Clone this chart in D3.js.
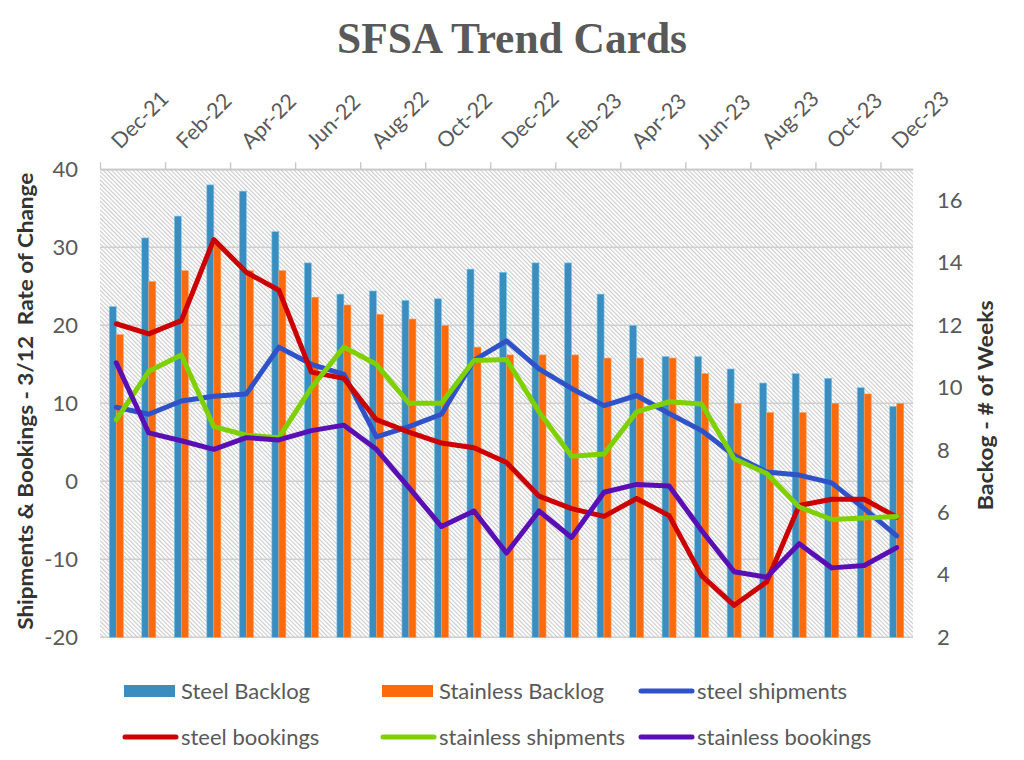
<!DOCTYPE html>
<html>
<head>
<meta charset="utf-8">
<script src="https://cdn.jsdelivr.net/npm/d3@7"></script>
<style>
  body { margin: 0; background: #fff; }
  svg { display: block; }
</style>
</head>
<body>
<svg id="chart" width="1024" height="760"></svg>
<script>
// month categories, Dec-21 .. Dec-23
const months = ['Dec-21', 'Jan-22', 'Feb-22', 'Mar-22', 'Apr-22', 'May-22', 'Jun-22', 'Jul-22',
  'Aug-22', 'Sep-22', 'Oct-22', 'Nov-22', 'Dec-22', 'Jan-23', 'Feb-23', 'Mar-23', 'Apr-23',
  'May-23', 'Jun-23', 'Jul-23', 'Aug-23', 'Sep-23', 'Oct-23', 'Nov-23', 'Dec-23'];

// backlog, weeks (right axis)
const steelBacklog = [12.6, 14.8, 15.5, 16.5, 16.3, 15.0, 14.0, 13.0, 13.1, 12.8, 12.85, 13.8, 13.7,
  14.0, 14.0, 13.0, 12.0, 11.0, 11.0, 10.6, 10.15, 10.45, 10.3, 10.0, 9.4];
const stainlessBacklog = [11.7, 13.4, 13.75, 14.6, 13.75, 13.75, 12.9, 12.65, 12.35, 12.2, 12.0, 11.3, 11.05,
  11.05, 11.05, 10.95, 10.95, 10.95, 10.45, 9.5, 9.2, 9.2, 9.5, 9.8, 9.5];

// 3/12 rate of change (left axis)
const steelShipments = [9.5, 8.6, 10.3, 10.9, 11.2, 17.2, 15.0, 13.7, 5.7, 7.0, 8.6, 15.5, 18.0,
  14.4, 11.9, 9.7, 11.0, 8.7, 6.5, 3.3, 1.2, 0.8, -0.2, -3.5, -7.0];
const steelBookings = [20.2, 18.9, 20.6, 31.0, 26.8, 24.5, 14.0, 13.2, 7.9, 6.3, 4.9, 4.3, 2.4,
  -1.9, -3.5, -4.5, -2.2, -4.4, -12.1, -15.9, -12.9, -3.1, -2.3, -2.3, -4.6];
const stainlessShipments = [7.9, 14.1, 16.2, 7.0, 5.9, 5.6, 12.0, 17.2, 15.0, 10.0, 10.0, 15.5, 15.6,
  8.9, 3.2, 3.5, 8.9, 10.2, 9.9, 2.9, 1.0, -3.3, -4.9, -4.7, -4.5];
const stainlessBookings = [15.2, 6.2, 5.2, 4.1, 5.6, 5.3, 6.5, 7.2, 4.1, -0.8, -5.8, -3.8, -9.2,
  -3.8, -7.2, -1.4, -0.4, -0.6, -6.3, -11.6, -12.3, -8.0, -11.1, -10.8, -8.5];

const leftTicks = [-20, -10, 0, 10, 20, 30, 40];
const rightTicks = [2, 4, 6, 8, 10, 12, 14, 16];
const labelEvery = 2;

const barSeries = [
  { name: 'Steel Backlog', values: steelBacklog, color: '#3b8dc0', edge: '#79c8ec' },
  { name: 'Stainless Backlog', values: stainlessBacklog, color: '#fb6b0e', edge: '#ff9a50' }
];
const lineSeries = [
  { name: 'steel shipments', values: steelShipments, color: '#2f52c8' },
  { name: 'steel bookings', values: steelBookings, color: '#cc0000' },
  { name: 'stainless shipments', values: stainlessShipments, color: '#7ed000' },
  { name: 'stainless bookings', values: stainlessBookings, color: '#5a0fb4' }
];
const legendOrder = ['Steel Backlog', 'Stainless Backlog', 'steel shipments',
  'steel bookings', 'stainless shipments', 'stainless bookings'];

const font = 'Lato, "Open Sans", sans-serif';
const grey = '#595959';

const plot = { l: 100, r: 913, t: 169.3, b: 637.3 };

const svg = d3.select('#chart');

const x = d3.scaleBand().domain(months).range([plot.l, plot.r]).paddingInner(0).paddingOuter(0);
const xb = d3.scaleLinear().domain([0, months.length]).range([plot.l, plot.r]);
const sub = d3.scaleBand().domain(barSeries.map(d => d.name))
  .range([x.bandwidth() * 0.285, x.bandwidth() * 0.715]);
const y = d3.scaleLinear().domain([-20, 40]).range([plot.b, plot.t]);
const y2 = d3.scaleLinear().domain([2, 17]).range([plot.b, plot.t]);

// hatch background
const pat = svg.append('defs').append('pattern')
  .attr('id', 'hatch')
  .attr('patternUnits', 'userSpaceOnUse')
  .attr('width', 3).attr('height', 3)
  .attr('patternTransform', 'rotate(-45)');
pat.append('rect').attr('width', 3).attr('height', 3).attr('fill', '#fff');
pat.append('line').attr('x1', 0.6).attr('x2', 0.6).attr('y1', 0).attr('y2', 3)
  .attr('stroke', '#c6c6c6').attr('stroke-width', 1);

svg.append('rect')
  .attr('x', plot.l).attr('y', plot.t)
  .attr('width', plot.r - plot.l).attr('height', plot.b - plot.t)
  .attr('fill', 'url(#hatch)');

// gridlines
svg.append('g').selectAll('line')
  .data(leftTicks)
  .join('line')
  .attr('x1', plot.l).attr('x2', plot.r)
  .attr('y1', d => y(d)).attr('y2', d => y(d))
  .attr('stroke', '#cfcfcf').attr('stroke-width', 1.6);

// bars
svg.append('g').selectAll('g')
  .data(barSeries)
  .join('g')
  .attr('fill', d => d.color)
  .attr('stroke', d => d.edge)
  .attr('stroke-width', 0.6)
  .selectAll('rect')
  .data(s => s.values.map((v, i) => ({ name: s.name, month: months[i], v })))
  .join('rect')
  .attr('x', d => x(d.month) + sub(d.name))
  .attr('width', sub.bandwidth())
  .attr('y', d => y2(d.v))
  .attr('height', d => y2(2) - y2(d.v));

// lines
const line = d3.line()
  .x((d, i) => x(months[i]) + x.bandwidth() / 2)
  .y(d => y(d));

svg.append('g').selectAll('path')
  .data(lineSeries)
  .join('path')
  .attr('fill', 'none')
  .attr('stroke', d => d.color)
  .attr('stroke-width', 5)
  .attr('stroke-linejoin', 'round')
  .attr('stroke-linecap', 'round')
  .attr('d', d => line(d.values));

// top category axis
const axTop = svg.append('g')
  .attr('transform', `translate(0,${plot.t})`)
  .call(d3.axisTop(xb)
    .tickValues(d3.range(0, months.length, labelEvery))
    .tickFormat('')
    .tickSize(7)
    .tickSizeOuter(0));
axTop.select('.domain').attr('stroke', '#c8c8c8').attr('stroke-width', 1.6);
axTop.selectAll('.tick line').attr('stroke', '#c8c8c8').attr('stroke-width', 1.4);

svg.append('g').selectAll('text')
  .data(months.filter((m, i) => i % labelEvery === 0))
  .join('text')
  .attr('transform', d => `translate(${x(d) + x.bandwidth() / 2 + 4},150) rotate(-45)`)
  .attr('font-family', font)
  .attr('font-size', 21.5)
  .attr('fill', grey)
  .text(d => d);

// left value axis
const axL = svg.append('g')
  .attr('transform', `translate(${plot.l},0)`)
  .call(d3.axisLeft(y).tickValues(leftTicks).tickSize(0).tickPadding(22).tickFormat(d => String(d)));
axL.select('.domain').remove();
axL.selectAll('text').attr('font-family', font).attr('font-size', 22).attr('fill', grey);

// right value axis
const axR = svg.append('g')
  .attr('transform', `translate(${plot.r},0)`)
  .call(d3.axisRight(y2).tickValues(rightTicks).tickSize(0).tickPadding(24).tickFormat(d => String(d)));
axR.select('.domain').remove();
axR.selectAll('text').attr('font-family', font).attr('font-size', 22).attr('fill', grey);

// axis titles
svg.append('text')
  .attr('transform', `translate(33,${(plot.t + plot.b) / 2 - 2}) rotate(-90)`)
  .attr('text-anchor', 'middle')
  .attr('font-family', font)
  .attr('font-weight', 'bold')
  .attr('font-size', 21.5)
  .attr('fill', '#333')
  .attr('xml:space', 'preserve')
  .attr('textLength', 457)
  .attr('lengthAdjust', 'spacingAndGlyphs')
  .text('Shipments & Bookings - 3/12  Rate of Change');

svg.append('text')
  .attr('transform', `translate(993,${(plot.t + plot.b) / 2 + 2}) rotate(-90)`)
  .attr('text-anchor', 'middle')
  .attr('font-family', font)
  .attr('font-weight', 'bold')
  .attr('font-size', 21.5)
  .attr('fill', '#333')
  .attr('textLength', 210)
  .attr('lengthAdjust', 'spacingAndGlyphs')
  .text('Backog - # of Weeks');

// title
svg.append('text')
  .attr('x', 512).attr('y', 53)
  .attr('text-anchor', 'middle')
  .attr('font-family', '"Liberation Serif", "DejaVu Serif", serif')
  .attr('font-weight', 'bold')
  .attr('font-size', 45)
  .attr('fill', grey)
  .attr('textLength', 350)
  .attr('lengthAdjust', 'spacingAndGlyphs')
  .text('SFSA Trend Cards');

// legend
const allSeries = barSeries.map(d => ({ ...d, type: 'bar' }))
  .concat(lineSeries.map(d => ({ ...d, type: 'line' })));
const legendItems = legendOrder.map(n => allSeries.find(s => s.name === n));

const lg = svg.append('g').selectAll('g')
  .data(legendItems)
  .join('g')
  .attr('transform', (d, i) => `translate(${124 + 258 * (i % 3)},${691 + 46 * Math.floor(i / 3)})`);

lg.filter(d => d.type === 'bar').append('rect')
  .attr('x', 0).attr('y', -6).attr('width', 51).attr('height', 12)
  .attr('fill', d => d.color);
lg.filter(d => d.type === 'line').append('line')
  .attr('x1', 1).attr('x2', 52).attr('y1', 0).attr('y2', 0)
  .attr('stroke', d => d.color).attr('stroke-width', 5).attr('stroke-linecap', 'round');
lg.append('text')
  .attr('x', 57).attr('y', 8)
  .attr('font-family', font)
  .attr('font-size', 22)
  .attr('fill', grey)
  .text(d => d.name);
</script>
</body>
</html>
